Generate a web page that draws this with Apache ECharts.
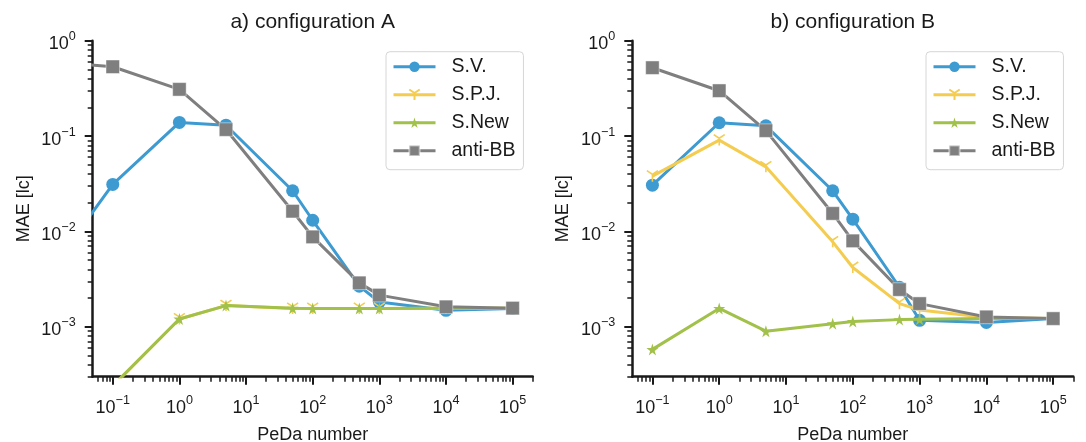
<!DOCTYPE html>
<html><head><meta charset="utf-8">
<script src="https://cdn.jsdelivr.net/npm/echarts@6/dist/echarts.min.js"></script>
<style>html,body{margin:0;padding:0;background:#fff}#c{width:1086px;height:442px}</style>
</head><body><div id="c"></div>
<script>
// ---------- data ----------
const seriesNames = ['S.V.', 'S.P.J.', 'S.New', 'anti-BB'];
const titles = ['a) configuration A', 'b) configuration B'];
const xName = 'PeDa number';
const yName = 'MAE [lc]';

// configuration A
const pedaA = [0.01, 0.1, 1, 5, 50, 100, 500, 1000, 10000, 100000];
const svA   = [0.0034, 0.0311, 0.139, 0.130, 0.0267, 0.0131, 0.00267, 0.00182, 0.00149, 0.00156];
const spjA  = [null, 0.00024, 0.00121, 0.00167, 0.00156, 0.00156, 0.00156, 0.00156, 0.00157, 0.00157];
const newA  = [null, 0.00024, 0.00121, 0.00167, 0.00157, 0.00156, 0.00156, 0.00156, 0.00157, 0.00157];
const bbA   = [0.61, 0.533, 0.309, 0.117, 0.0163, 0.00877, 0.00289, 0.00215, 0.00162, 0.00157];

// configuration B
const pedaB = [0.1, 1, 5, 50, 100, 500, 1000, 10000, 100000];
const svB   = [0.0306, 0.138, 0.128, 0.0267, 0.01346, 0.0026, 0.00117, 0.00111, 0.00122];
const spjB  = [0.038, 0.0908, 0.0476, 0.00778, 0.00419, 0.00175, 0.0015, 0.00125, 0.00122];
const newB  = [0.00058, 0.00156, 0.00090, 0.00108, 0.00114, 0.00119, 0.00120, 0.00122, 0.00122];
const bbB   = [0.521, 0.299, 0.114, 0.01545, 0.00797, 0.00246, 0.00175, 0.00127, 0.00122];

// ticks
const xMajor = [0.1, 1, 10, 100, 1000, 10000, 100000];
const xMinor = [0.06, 0.07, 0.08, 0.09,
  0.2, 0.3, 0.4, 0.5, 0.6, 0.7, 0.8, 0.9,
  2, 3, 4, 5, 6, 7, 8, 9,
  20, 30, 40, 50, 60, 70, 80, 90,
  200, 300, 400, 500, 600, 700, 800, 900,
  2000, 3000, 4000, 5000, 6000, 7000, 8000, 9000,
  20000, 30000, 40000, 50000, 60000, 70000, 80000, 90000,
  200000];
const yMajor = [0.001, 0.01, 0.1, 1];
const yMinor = [0.0003, 0.0004, 0.0005, 0.0006, 0.0007, 0.0008, 0.0009,
  0.002, 0.003, 0.004, 0.005, 0.006, 0.007, 0.008, 0.009,
  0.02, 0.03, 0.04, 0.05, 0.06, 0.07, 0.08, 0.09,
  0.2, 0.3, 0.4, 0.5, 0.6, 0.7, 0.8, 0.9];

// ---------- style ----------
const FONT = "'Liberation Sans', Arial, sans-serif";
const INK = '#1a1a1a';
const colors = ['#3d9bd1', '#f4cc4f', '#a1c14a', '#7f7f7f'];
const STAR = 'path://M50,0 L61,35 L98,35 L68,57 L79,91 L50,70 L21,91 L32,57 L2,35 L39,35 Z';
const TRI = 'path://M0,0 L0,10 M0,0 L-8.66,-5 M0,0 L8.66,-5';
const symbols = [
  {symbol: 'circle', symbolSize: 13, itemStyle: {color: colors[0]}},
  {symbol: TRI, symbolSize: 11, itemStyle: {color: colors[1], borderColor: colors[1], borderWidth: 1.6}},
  {symbol: STAR, symbolSize: 12, itemStyle: {color: colors[2]}},
  {symbol: 'rect', symbolSize: 13.5, itemStyle: {color: colors[3], borderColor: 'rgba(255,255,255,0.45)', borderWidth: 1}}
];

const grids = [
  {left: 92.7, top: 40.7, width: 440, height: 336},
  {left: 632.3, top: 40.7, width: 441, height: 336}
];
const XMIN = 0.05, XMAX = 200000, YMIN = 0.0003, YMAX = 1;

function supLabel(v) {
  const e = Math.round(Math.log10(v));
  return '{b|10}{s|' + String(e).replace('-', '\u2212') + '}';
}
const rich = {
  b: {fontSize: 18, fontFamily: FONT, color: INK, lineHeight: 28},
  s: {fontSize: 12.6, fontFamily: FONT, color: INK, lineHeight: 9, verticalAlign: 'top'}
};

const xAxes = [], yAxes = [], series = [], titleArr = [], legends = [];
grids.forEach((g, gi) => {
  xAxes.push({
    type: 'log', gridIndex: gi, min: XMIN, max: XMAX, position: 'bottom',
    name: xName, nameLocation: 'middle', nameGap: 49,
    nameTextStyle: {fontFamily: FONT, fontSize: 18, color: INK},
    axisLine: {show: true, onZero: false, lineStyle: {color: INK, width: 2.5}},
    axisTick: {show: true, length: 8, customValues: xMajor, lineStyle: {color: INK, width: 2}},
    axisLabel: {show: true, customValues: xMajor, margin: 17, formatter: supLabel, rich: rich},
    splitLine: {show: false}
  });
  xAxes.push({
    type: 'log', gridIndex: gi, min: XMIN, max: XMAX, position: 'bottom',
    axisLine: {show: false, onZero: false},
    axisTick: {show: true, length: 5, customValues: xMinor, lineStyle: {color: INK, width: 1.5}},
    axisLabel: {show: false}, splitLine: {show: false}
  });
  yAxes.push({
    type: 'log', gridIndex: gi, min: YMIN, max: YMAX, position: 'left',
    name: yName, nameLocation: 'middle', nameGap: 60,
    nameTextStyle: {fontFamily: FONT, fontSize: 18, color: INK},
    axisLine: {show: true, onZero: false, lineStyle: {color: INK, width: 2.5}},
    axisTick: {show: true, length: 8, customValues: yMajor, lineStyle: {color: INK, width: 2}},
    axisLabel: {show: true, customValues: yMajor, margin: 17, formatter: supLabel, rich: rich, padding: [7, 0, 0, 0]},
    splitLine: {show: false}
  });
  yAxes.push({
    type: 'log', gridIndex: gi, min: YMIN, max: YMAX, position: 'left',
    axisLine: {show: false, onZero: false},
    axisTick: {show: true, length: 5, customValues: yMinor, lineStyle: {color: INK, width: 1.5}},
    axisLabel: {show: false}, splitLine: {show: false}
  });
  titleArr.push({
    text: titles[gi], left: g.left + g.width / 2, top: 12, textAlign: 'center', padding: 0,
    textStyle: {fontFamily: FONT, fontSize: 21, fontWeight: 'normal', color: INK}
  });
  legends.push({
    data: seriesNames, orient: 'vertical', left: gi === 0 ? 386 : 926, top: 51.7,
    selectedMode: false, itemWidth: 42, itemHeight: 13, itemGap: 8,
    padding: [5, 8, 9, 6], borderColor: '#d6d6d6', borderWidth: 1, borderRadius: 4,
    backgroundColor: 'rgba(255,255,255,0.85)',
    lineStyle: {width: 3},
    textStyle: {fontFamily: FONT, fontSize: 19.5, color: INK, padding: [0, 0, 0, 11]}
  });
});

const dataSets = [
  {x: pedaA, ys: [svA, spjA, newA, bbA]},
  {x: pedaB, ys: [svB, spjB, newB, bbB]}
];
dataSets.forEach((ds, gi) => {
  ds.ys.forEach((ys, si) => {
    series.push(Object.assign({
      type: 'line', name: seriesNames[si],
      xAxisIndex: gi * 2, yAxisIndex: gi * 2,
      data: ds.x.map((x, i) => [x, ys[i]]),
      showAllSymbol: true, clip: true, animation: false,
      lineStyle: {color: colors[si], width: 3},
      emphasis: {disabled: true},
      z: 2 + si
    }, symbols[si]));
  });
});

const chart = echarts.init(document.getElementById('c'), null, {renderer: 'canvas'});
chart.setOption({
  animation: false,
  backgroundColor: '#ffffff',
  color: colors,
  title: titleArr,
  legend: legends,
  grid: grids.map(g => Object.assign({containLabel: false, outerBoundsMode: 'none'}, g)),
  xAxis: xAxes,
  yAxis: yAxes,
  series: series
});
</script>
</body></html>
